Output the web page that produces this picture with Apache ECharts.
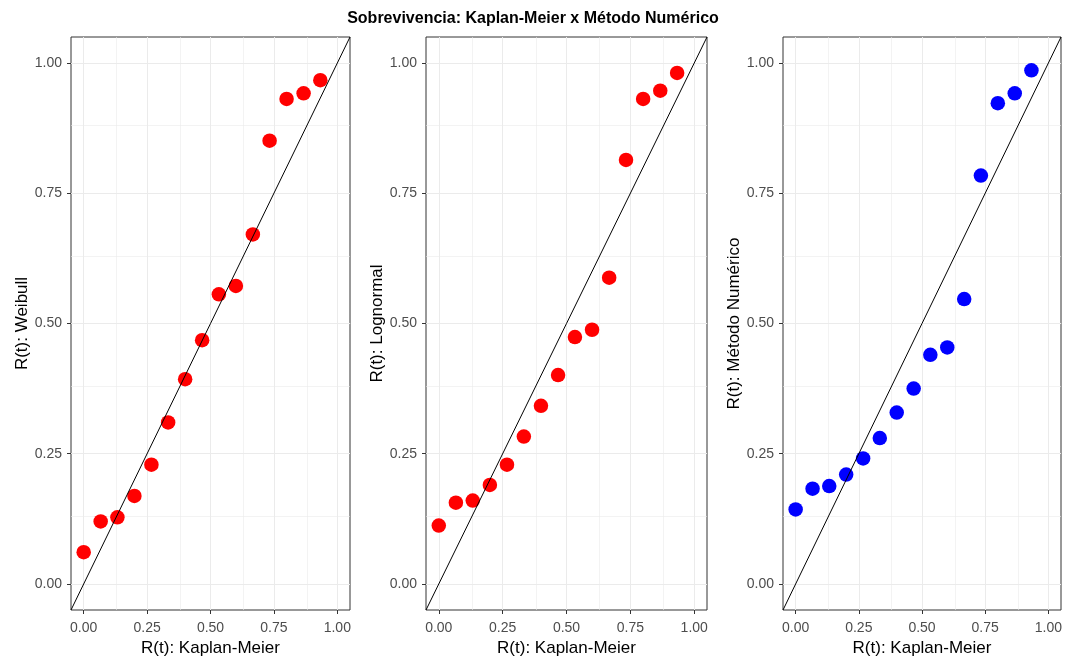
<!DOCTYPE html>
<html>
<head>
<meta charset="utf-8">
<script src="https://cdn.jsdelivr.net/npm/echarts@6/dist/echarts.min.js"></script>
<style>
html,body{margin:0;padding:0;background:#fff;}
#chart{width:1066px;height:658px;}
</style>
</head>
<body>
<div id="chart"></div>
<script>
// ---- data ----
const titleText = 'Sobrevivencia: Kaplan-Meier x Método Numérico';
const xTitle = 'R(t): Kaplan-Meier';
const yTitles = ['R(t): Weibull', 'R(t): Lognormal', 'R(t): Método Numérico'];
const kaplanMeier = [0, 0.067, 0.133, 0.2, 0.267, 0.333, 0.4, 0.467, 0.533, 0.6, 0.667, 0.733, 0.8, 0.867, 0.933];
const weibull    = [0.061, 0.120, 0.128, 0.169, 0.229, 0.310, 0.393, 0.468, 0.556, 0.572, 0.671, 0.851, 0.931, 0.942, 0.967];
const lognormal  = [0.112, 0.156, 0.160, 0.190, 0.229, 0.283, 0.342, 0.401, 0.474, 0.488, 0.588, 0.814, 0.931, 0.947, 0.981];
const numerico   = [0.143, 0.183, 0.188, 0.210, 0.241, 0.280, 0.329, 0.375, 0.440, 0.454, 0.547, 0.784, 0.923, 0.942, 0.986];
const majorTicks = [0, 0.25, 0.5, 0.75, 1];
const minorTicks = [0.125, 0.375, 0.625, 0.875];
const axisLimits = [-0.05, 1.05];
const pointColors = ['#FF0000', '#FF0000', '#0000FF'];

// ---- layout ----
const grids = [
  {left: 71, top: 37, width: 279, height: 573},
  {left: 426, top: 37, width: 281, height: 573},
  {left: 783, top: 37, width: 278, height: 573}
];
const FONT = '"Liberation Sans", Arial, sans-serif';
const panels = [weibull, lognormal, numerico];

function axisCommon(isX, i) {
  return {
    type: 'value',
    gridIndex: i,
    min: axisLimits[0],
    max: axisLimits[1],
    axisLine: {show: false, onZero: false},
    axisTick: {show: true, customValues: majorTicks, length: 4, lineStyle: {color: '#333333', width: 1}},
    axisLabel: {
      customValues: majorTicks,
      color: '#4D4D4D', fontSize: 14, fontFamily: FONT, margin: isX ? 11 : 9,
      formatter: v => v.toFixed(2)
    },
    splitLine: {show: false},
    name: isX ? xTitle : yTitles[i],
    nameLocation: 'middle',
    nameGap: isX ? 26 : 35,
    nameTextStyle: {color: '#000', fontSize: 17, fontFamily: FONT}
  };
}

const series = [];
panels.forEach((vals, i) => {
  const gl = [];
  majorTicks.forEach(v => { gl.push({xAxis: v, lineStyle: {width: 1}}); gl.push({yAxis: v, lineStyle: {width: 1}}); });
  minorTicks.forEach(v => { gl.push({xAxis: v, lineStyle: {width: 0.6}}); gl.push({yAxis: v, lineStyle: {width: 0.6}}); });
  series.push({
    type: 'line', xAxisIndex: i, yAxisIndex: i, data: [], silent: true, z: 0,
    markLine: {silent: true, z: 0, symbol: 'none', label: {show: false}, animation: false,
      lineStyle: {color: '#EBEBEB', type: 'solid'}, data: gl}
  });
  series.push({
    type: 'scatter', xAxisIndex: i, yAxisIndex: i, z: 2,
    symbolSize: 14.5,
    itemStyle: {color: pointColors[i], opacity: 1},
    data: kaplanMeier.map((x, k) => [x, vals[k]])
  });
  series.push({
    type: 'line', xAxisIndex: i, yAxisIndex: i, z: 3, silent: true,
    symbol: 'none', lineStyle: {color: '#000', width: 1},
    data: [[axisLimits[0], axisLimits[0]], [axisLimits[1], axisLimits[1]]]
  });
});

const chart = echarts.init(document.getElementById('chart'), null, {renderer: 'canvas'});
chart.setOption({
  animation: false,
  backgroundColor: '#fff',
  title: {text: titleText, left: 'center', top: 6,
    textStyle: {fontSize: 16, fontWeight: 'bold', color: '#000', fontFamily: FONT}},
  grid: grids.map(g => Object.assign({show: true, borderColor: '#333333', borderWidth: 1, backgroundColor: '#fff', containLabel: false, outerBoundsMode: 'none'}, g)),
  xAxis: [0, 1, 2].map(i => axisCommon(true, i)),
  yAxis: [0, 1, 2].map(i => axisCommon(false, i)),
  series: series
});
</script>
</body>
</html>
